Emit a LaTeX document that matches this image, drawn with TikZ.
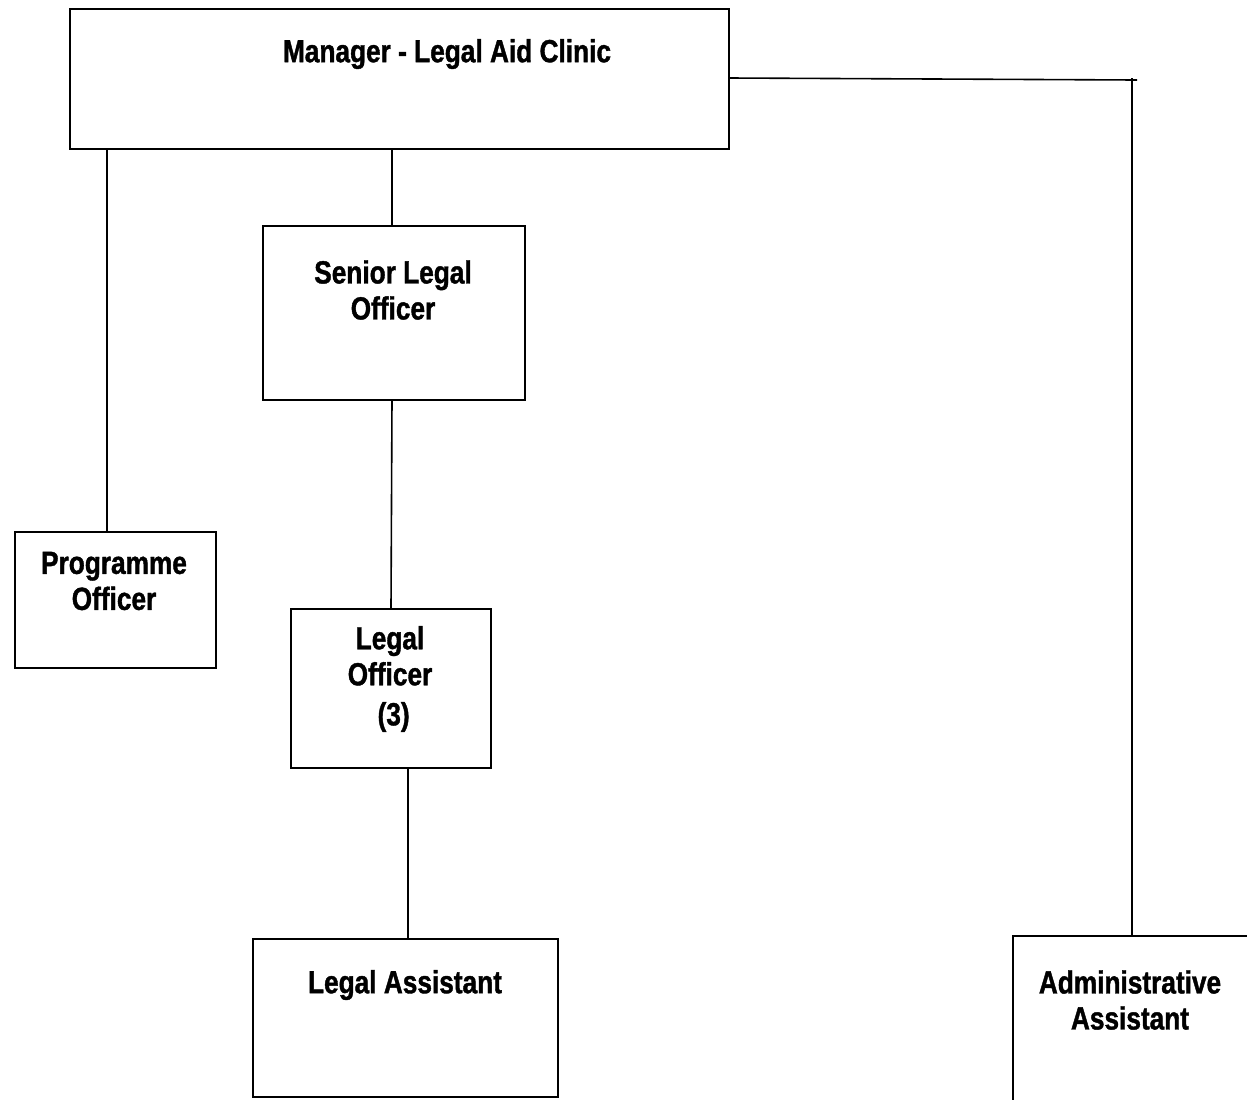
\documentclass[tikz,border=0pt]{standalone}
\usepackage{fontspec}
\setmainfont{Liberation Sans}[FakeStretch=0.82,FakeBold=1.2]
\begin{document}
\begin{tikzpicture}[x=0.5pt,y=-0.5pt,
  box/.style={draw,line width=1pt,rectangle,inner sep=0pt,anchor=north west},
  lbl/.style={font=\fontsize{16}{18}\selectfont\bfseries,align=center,inner sep=0pt},
  conn/.style={line width=0.8pt}]
\useasboundingbox (0,0) rectangle (1247,1099);
\clip (0,0) rectangle (1247,1099);
% boxes
\node[box,minimum width=329.5pt,minimum height=70pt] (mgr) at (69,8) {};
\node[box,minimum width=131pt,minimum height=87pt] (slo) at (262,225) {};
\node[box,minimum width=100.5pt,minimum height=68pt] (po) at (14,531) {};
\node[box,minimum width=100pt,minimum height=79.5pt] (lo) at (290,608) {};
\node[box,minimum width=152.5pt,minimum height=79pt] (la) at (252,938) {};
\node[box,minimum width=130pt,minimum height=100pt] (aa) at (1012,935) {};
% texts
\node[lbl] (mgrt) at (447,54) {Manager - Legal Aid Clinic};
\node[lbl] (slot) at (393,290) {Senior Legal\\Officer};
\node[lbl] (pot) at (114,581) {Programme\\Officer};
\node[lbl] (lot) at (390,679) {Legal\\Officer\\[2pt]\ (3)};
\node[lbl] (lat) at (405,985) {Legal Assistant};
\node[lbl] (aat) at (1130,1000) {Administrative\\Assistant};
% connectors
\coordinate (c1) at (1137,80);
\coordinate (c2) at (1132,78);
\draw[conn] (mgr.east |- 0,78) -- (c1);
\draw[conn] (c2) -- (c2 |- aa.north);
\draw[conn] (107,148) -- (107,531);
\draw[conn] (mgr.south -| 392,0) -- (slo.north -| 392,0);
\draw[conn] (392,399) -- (391,608);
\draw[conn] (lo.south -| 408,0) -- (la.north -| 408,0);
\end{tikzpicture}
\end{document}
